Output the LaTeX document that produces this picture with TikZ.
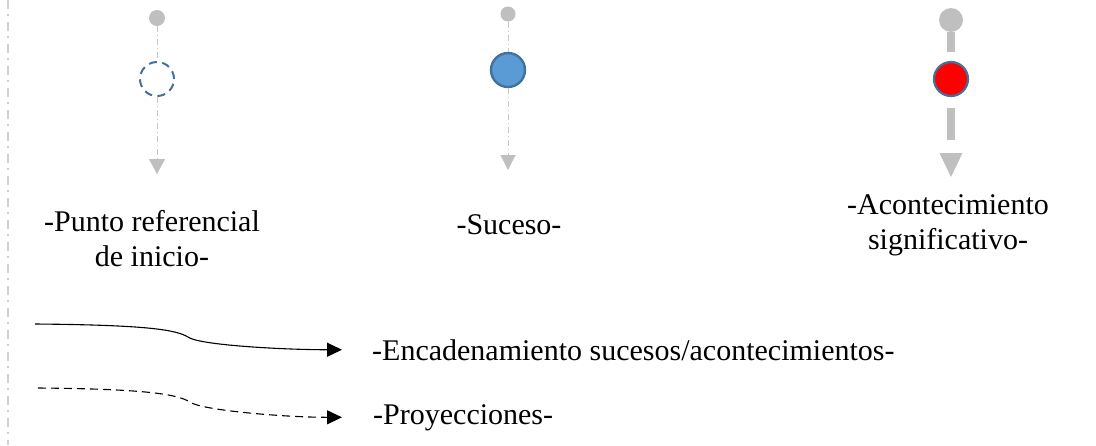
\documentclass[tikz,border=0pt]{standalone}
\usepackage{fontspec}
\setmainfont{Liberation Serif}
\newfontfamily\timesfont{Liberation Serif}
\usetikzlibrary{arrows.meta, calc}

\definecolor{dotgray}{HTML}{BFBFBF}
\definecolor{stemgray}{HTML}{C8C8C8}
\definecolor{rimblue}{HTML}{41719C}
\definecolor{sucblue}{HTML}{5B9BD5}

\tikzset{
  stem/.style={draw=stemgray, line width=1pt, dash pattern=on 6pt off 3pt on 1pt off 3pt},
  bigbar/.style={draw=dotgray, line width=8pt},
  topdot/.style={circle, fill=dotgray, inner sep=0pt, minimum size=#1},
  evtmark/.style={circle, inner sep=0pt, minimum size=34pt, line width=2pt, draw=rimblue},
  lbl/.style={inner sep=0pt, align=center, font=\timesfont\fontsize{30}{35}\selectfont},
  flow/.style={line width=1.1pt, -{Triangle[width=14pt,length=15pt]}}
}

\begin{document}
\begin{tikzpicture}[x=1pt, y=-1pt]
  \useasboundingbox (0,0) rectangle (1096,445);

  % Draw the left border line
  \draw[draw=stemgray!85, line width=2pt, dash pattern=on 9pt off 5pt on 2pt off 6pt] (8,0) -- (8,445);

  % Punto referencial de inicio
  \node[topdot=16pt] (d1) at (157,18) {};
  \node[evtmark, dash pattern=on 8pt off 5.4pt] (c1) at (157,79) {};
  \coordinate (e1) at (157,174);
  \draw[stem] (d1) -- (c1);
  \draw[stem, -{Triangle[width=16pt,length=15pt,color=dotgray,fill=dotgray]}] (c1) -- (e1);

  % Suceso
  \node[topdot=15pt] (d2) at (508,14) {};
  \node[evtmark, fill=sucblue, line width=2.4pt] (c2) at (508,70) {};
  \coordinate (e2) at (508,170);
  \draw[stem] (d2) -- (c2);
  \draw[stem, -{Triangle[width=15pt,length=15pt,color=dotgray,fill=dotgray]}] (c2) -- (e2);

  % Acontecimiento significativo
  \node[topdot=24pt] (d3) at (951,20) {};
  \node[evtmark, fill=red, line width=2.2pt] (c3) at (951,79) {};
  \coordinate (e3) at (951,153);
  \draw[bigbar, shorten >=9pt] (d3) -- (c3);
  \draw[bigbar, shorten <=11pt, shorten >=13pt] (c3) -- (e3);
  \fill[dotgray] ($(e3)+(-11.5,0)$) -- ($(e3)+(11.5,0)$) -- ($(e3)+(0,24)$) -- cycle;

  % Labels
  \node[lbl] (t1) at (152,239) {-Punto referencial\\de inicio-};
  \node[lbl, anchor=base] (t2) at (509,234) {-Suceso-};
  \node[lbl] (t3) at (948,225) {-Acontecimiento\\significativo-};

  % Legend
  \node[lbl, anchor=base west] (l1) at (372,360) {-Encadenamiento sucesos/acontecimientos-};
  \node[lbl, anchor=base west] (l2) at (373,424) {-Proyecciones-};
  \coordinate (s1) at (35,324);
  \coordinate (k1) at (188,337);
  \coordinate (s2) at (38,388);
  \coordinate (k2) at (190,402);
  \draw[flow, shorten >=30pt] (s1) .. controls +(115,1) and +(-12,-7) .. (k1)
    .. controls +(10,8) and +(-90,0) .. (l1.west);
  \draw[flow, dash pattern=on 8pt off 5pt, shorten >=31pt] (s2) .. controls +(115,1) and +(-12,-7) .. (k2)
    .. controls +(10,8) and +(-90,0) .. (l2.west);
\end{tikzpicture}
\end{document}
